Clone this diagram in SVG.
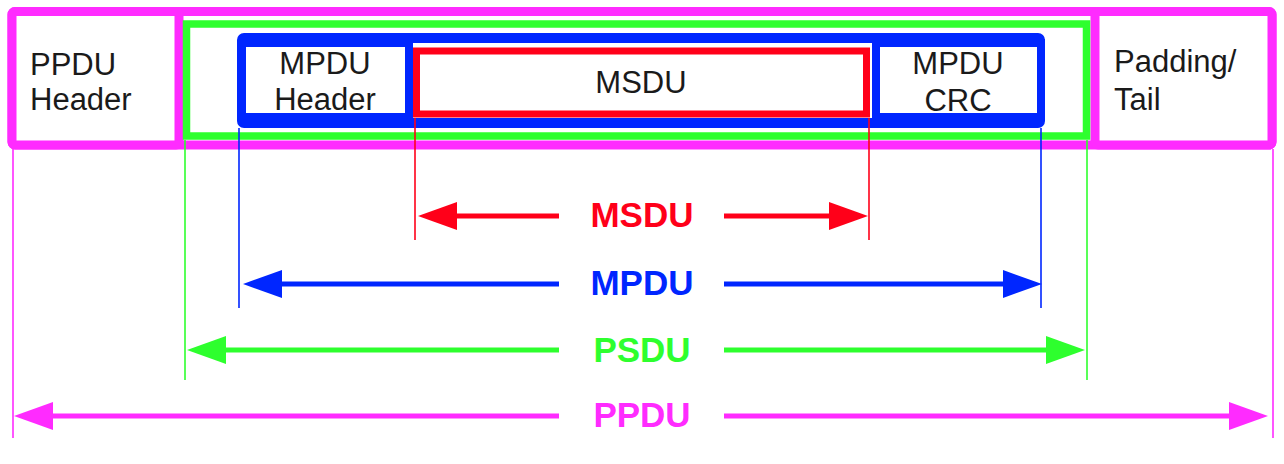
<svg xmlns="http://www.w3.org/2000/svg" width="1284" height="464" viewBox="0 0 1284 464">
<style>
.t{font-family:"Liberation Sans",Arial,sans-serif;font-size:31px;fill:#1a1a1a}
.c{text-anchor:middle}
.lbl{font-family:"Liberation Sans",Arial,sans-serif;font-size:35px;font-weight:bold;text-anchor:middle}
.box{fill:#fff}
.ext{stroke-width:1.6;fill:none}
.arr{stroke-width:5;fill:none}
.mg{stroke:#ff2bff}.gr{stroke:#2eff2e}.bl{stroke:#0026ff}.rd{stroke:#ff0019}
</style>
<defs>
<marker id="aR" markerUnits="userSpaceOnUse" markerWidth="40" markerHeight="30" refX="9" refY="14" orient="auto"><path d="M0,0 L39,14 L0,28 z" fill="#ff0019"/></marker>
<marker id="aB" markerUnits="userSpaceOnUse" markerWidth="40" markerHeight="30" refX="9" refY="14" orient="auto"><path d="M0,0 L39,14 L0,28 z" fill="#0026ff"/></marker>
<marker id="aG" markerUnits="userSpaceOnUse" markerWidth="40" markerHeight="30" refX="9" refY="14" orient="auto"><path d="M0,0 L39,14 L0,28 z" fill="#2eff2e"/></marker>
<marker id="aM" markerUnits="userSpaceOnUse" markerWidth="40" markerHeight="30" refX="9" refY="14" orient="auto"><path d="M0,0 L39,14 L0,28 z" fill="#ff2bff"/></marker>
</defs>
<rect width="1284" height="464" fill="#fff"/>

<g id="ppdu-frame">
<rect class="box mg" x="12" y="11.5" width="1260" height="133.5" rx="3" stroke-width="9"/>
</g>
<g id="ppdu-header">
<rect class="box mg" x="12" y="11.5" width="167" height="133.5" rx="3" stroke-width="9"/>
<text class="t" x="30" y="75">PPDU</text>
<text class="t" x="30" y="110">Header</text>
</g>
<g id="padding-tail">
<rect class="box mg" x="1095" y="11.5" width="177" height="133.5" rx="3" stroke-width="9"/>
<text class="t" x="1114" y="72">Padding/</text>
<text class="t" x="1114" y="110">Tail</text>
</g>
<g id="psdu">
<rect class="box gr" x="186.5" y="24" width="900" height="112" stroke-width="7.5"/>
</g>
<g id="mpdu">
<rect class="box bl" x="242" y="38" width="798" height="85" rx="2" stroke-width="10"/>
</g>
<g id="mpdu-header">
<rect class="box bl" x="242" y="43" width="167" height="74" stroke-width="8"/>
<text class="t c" x="325" y="74">MPDU</text>
<text class="t c" x="325" y="110">Header</text>
</g>
<g id="mpdu-crc">
<rect class="box bl" x="876" y="43" width="165" height="74" stroke-width="8"/>
<text class="t c" x="958" y="74">MPDU</text>
<text class="t c" x="958" y="111">CRC</text>
</g>
<g id="msdu">
<rect class="box rd" x="416.5" y="51" width="450" height="63" stroke-width="7"/>
<text class="t c" x="641" y="93">MSDU</text>
</g>

<g id="connectors">
<line class="ext rd" x1="415" y1="118" x2="415" y2="240"/>
<line class="ext rd" x1="869" y1="118" x2="869" y2="240"/>
<line class="ext bl" x1="239" y1="128" x2="239" y2="308"/>
<line class="ext bl" x1="1041" y1="128" x2="1041" y2="308"/>
<line class="ext gr" x1="185" y1="140" x2="185" y2="380"/>
<line class="ext gr" x1="1087" y1="140" x2="1087" y2="380"/>
<line class="ext mg" x1="13" y1="149" x2="13" y2="438"/>
<line class="ext mg" x1="1273" y1="149" x2="1273" y2="438"/>

<line class="arr rd" x1="559" y1="216" x2="448" y2="216" marker-end="url(#aR)"/>
<line class="arr rd" x1="724" y1="216" x2="838" y2="216" marker-end="url(#aR)"/>
<line class="arr bl" x1="559" y1="284" x2="273" y2="284" marker-end="url(#aB)"/>
<line class="arr bl" x1="724" y1="284" x2="1012" y2="284" marker-end="url(#aB)"/>
<line class="arr gr" x1="559" y1="350" x2="217" y2="350" marker-end="url(#aG)"/>
<line class="arr gr" x1="724" y1="350" x2="1055" y2="350" marker-end="url(#aG)"/>
<line class="arr mg" x1="559" y1="416" x2="44" y2="416" marker-end="url(#aM)"/>
<line class="arr mg" x1="724" y1="416" x2="1238" y2="416" marker-end="url(#aM)"/>

<text class="lbl" x="642" y="227" fill="#ff0019">MSDU</text>
<text class="lbl" x="642" y="295" fill="#0026ff">MPDU</text>
<text class="lbl" x="642" y="362" fill="#2eff2e">PSDU</text>
<text class="lbl" x="642" y="427" fill="#ff2bff">PPDU</text>
</g>
</svg>
